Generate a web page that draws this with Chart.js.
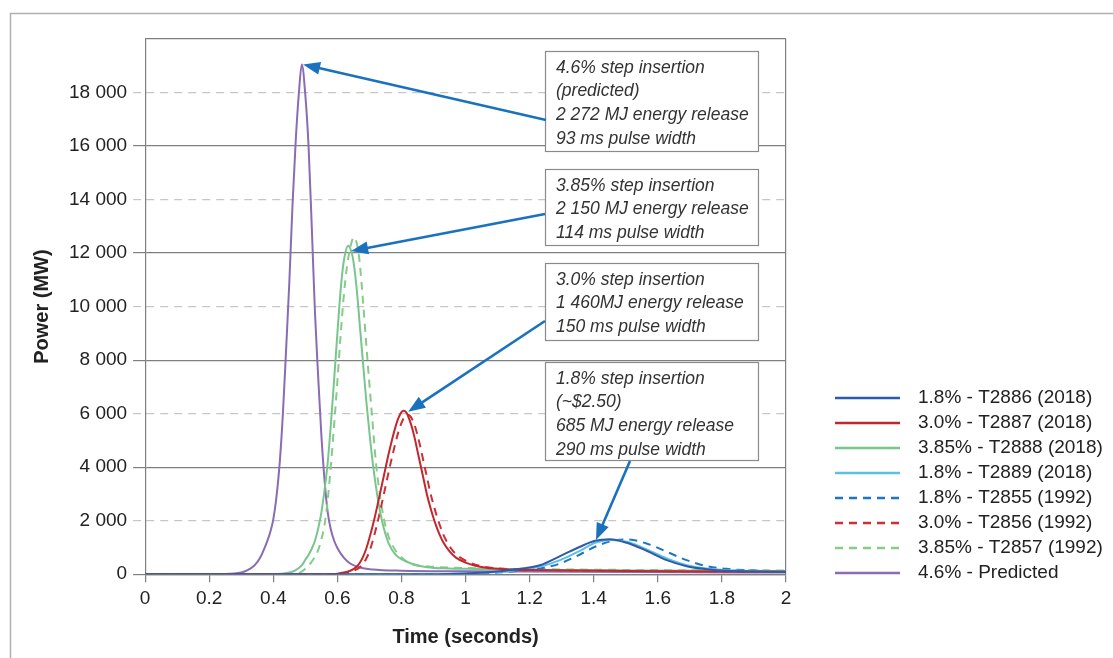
<!DOCTYPE html>
<html>
<head>
<meta charset="utf-8">
<title>Pulse power vs time</title>
<script src="https://cdn.jsdelivr.net/npm/chart.js@4.4.0/dist/chart.umd.min.js"></script>
<style>
  html, body { margin: 0; padding: 0; background: #ffffff; }
  #wrap { position: relative; width: 1113px; height: 658px; }
</style>
</head>
<body>
<div id="wrap"><canvas id="pulseChart"></canvas></div>
<script>
// =============================================
// DATA
// time in seconds, power in MW
// =============================================
const seriesLabels = [
    '1.8% - T2886 (2018)',
    '3.0% - T2887 (2018)',
    '3.85% - T2888 (2018)',
    '1.8% - T2889 (2018)',
    '1.8% - T2855 (1992)',
    '3.0% - T2856 (1992)',
    '3.85% - T2857 (1992)',
    '4.6% - Predicted'
];

// 1.8% - T2886 (2018)
const tB86 = [0, 0.9, 1.0, 1.1, 1.17, 1.232, 1.295, 1.357, 1.404, 1.45, 1.503, 1.565, 1.628, 1.69, 1.753, 1.815, 1.9, 2.0];
const pB86 = [0, 0, 30, 100, 200, 337, 675, 1025, 1250, 1310, 1175, 875, 525, 300, 187, 125, 100, 90];

// 3.0% - T2887 (2018)
const tR18 = [0, 0.58, 0.60, 0.62, 0.64, 0.65, 0.66, 0.67, 0.68, 0.69, 0.70, 0.71, 0.72, 0.73, 0.74, 0.75, 0.76, 0.77, 0.78, 0.79, 0.80, 0.807,
    0.815, 0.82, 0.83, 0.84, 0.85, 0.86, 0.87, 0.88, 0.89, 0.90, 0.91, 0.92, 0.93, 0.95, 0.97, 1.0, 1.04, 1.09, 1.15, 1.2, 1.5, 2.0];
const pR18 = [0, 0, 20, 60, 130, 190, 280, 430, 650, 950, 1350, 1800, 2300, 2850, 3400, 3950, 4500, 5000, 5450, 5820, 6060, 6110,
    6050, 5930, 5600, 5150, 4600, 4050, 3500, 2950, 2500, 2100, 1750, 1450, 1200, 850, 620, 430, 290, 210, 170, 155, 120, 90];

// 3.85% - T2888 (2018)
const tG18 = [0, 0.40, 0.45, 0.47, 0.49, 0.50, 0.51, 0.52, 0.53, 0.54, 0.55, 0.56, 0.57, 0.58, 0.59, 0.60, 0.61, 0.62, 0.634,
    0.645, 0.65, 0.66, 0.67, 0.68, 0.69, 0.70, 0.71, 0.72, 0.73, 0.74, 0.75, 0.76, 0.78, 0.80, 0.83, 0.88, 0.95, 1.0, 1.2, 1.5, 2.0];
const pG18 = [0, 0, 60, 150, 350, 540, 720, 950, 1250, 1700, 2300, 3150, 4200, 5650, 7300, 9000, 10600, 11700, 12275,
    12000, 11700, 10700, 9300, 7900, 6500, 5300, 4200, 3300, 2550, 1950, 1500, 1150, 750, 560, 400, 260, 215, 200, 160, 140, 120];

// 1.8% - T2889 (2018)
const tB89 = [0, 0.9, 1.0, 1.1, 1.17, 1.232, 1.295, 1.357, 1.404, 1.456, 1.503, 1.565, 1.628, 1.69, 1.753, 1.815, 1.9, 2.0];
const pB89 = [0, 0, 25, 80, 170, 280, 525, 875, 1175, 1275, 1215, 925, 590, 340, 212, 150, 110, 95];

// 1.8% - T2855 (1992)
const tB55 = [0, 0.9, 1.0, 1.1, 1.17, 1.232, 1.295, 1.357, 1.404, 1.461, 1.503, 1.565, 1.628, 1.69, 1.753, 1.815, 1.877, 1.95, 2.0];
const pB55 = [0, 0, 15, 60, 130, 212, 400, 737, 1025, 1250, 1300, 1150, 837, 525, 300, 200, 150, 120, 110];

// 3.0% - T2856 (1992)
const tR92 = [0, 0.60, 0.62, 0.64, 0.66, 0.67, 0.68, 0.69, 0.70, 0.71, 0.72, 0.73, 0.74, 0.75, 0.76, 0.77, 0.78, 0.79, 0.80, 0.81, 0.82,
    0.828, 0.84, 0.85, 0.86, 0.87, 0.88, 0.89, 0.90, 0.91, 0.92, 0.93, 0.94, 0.96, 0.98, 1.01, 1.05, 1.10, 1.2, 1.5, 2.0];
const pR92 = [0, 0, 25, 80, 180, 260, 390, 580, 850, 1230, 1680, 2180, 2720, 3270, 3820, 4350, 4850, 5300, 5650, 5880, 5960,
    5900, 5600, 5200, 4700, 4150, 3600, 3050, 2600, 2180, 1820, 1500, 1250, 880, 650, 450, 300, 215, 165, 125, 95];

// 3.85% - T2857 (1992)
const tG92 = [0, 0.45, 0.48, 0.50, 0.51, 0.52, 0.53, 0.54, 0.55, 0.56, 0.57, 0.58, 0.59, 0.60, 0.61, 0.62, 0.63, 0.64, 0.652,
    0.665, 0.67, 0.68, 0.69, 0.70, 0.71, 0.72, 0.73, 0.74, 0.75, 0.76, 0.77, 0.79, 0.83, 0.9, 1.0, 1.2, 1.5, 2.0];
const pG92 = [0, 0, 40, 200, 320, 470, 650, 900, 1300, 1850, 2800, 4100, 5600, 7200, 8900, 10400, 11500, 12200, 12590,
    12100, 11600, 10200, 8600, 7100, 5650, 4200, 3200, 2400, 1800, 1400, 1120, 750, 390, 280, 230, 190, 160, 140];

// 4.6% - Predicted
const tPred = [0, 0.25, 0.30, 0.32, 0.34, 0.35, 0.36, 0.37, 0.38, 0.39, 0.40, 0.41, 0.42, 0.43, 0.44, 0.45, 0.46, 0.47, 0.48, 0.489,
    0.50, 0.51, 0.52, 0.53, 0.54, 0.55, 0.56, 0.57, 0.58, 0.59, 0.60, 0.62, 0.64, 0.67, 0.71, 0.8, 1.0, 1.5, 2.0];
const pPred = [0, 10, 60, 150, 320, 450, 640, 900, 1200, 1550, 2050, 2900, 4150, 6000, 8400, 10900, 13800, 16200, 18000, 19050,
    17900, 16000, 13000, 9800, 7400, 5200, 3500, 2300, 1650, 1250, 980, 620, 400, 250, 175, 130, 110, 80, 60];

// callout texts
const noteTexts = [
    ['4.6% step insertion', '(predicted)', '2 272 MJ energy release', '93 ms pulse width'],
    ['3.85% step insertion', '2 150 MJ energy release', '114 ms pulse width'],
    ['3.0% step insertion', '1 460MJ energy release', '150 ms pulse width'],
    ['1.8% step insertion', '(~$2.50)', '685 MJ energy release', '290 ms pulse width']
];
// point (time, MW) each callout arrow points at
const noteTargetT = [0.493, 0.643, 0.821, 1.407];
const noteTargetP = [19050, 12075, 6075, 1275];

// =============================================
// STYLES
// =============================================
const FONT = "'Liberation Sans', Arial, Helvetica, sans-serif";
const seriesStyles = [
    { color: '#2f5aa8', dash: [] },
    { color: '#c1272d', dash: [] },
    { color: '#78c68e', dash: [] },
    { color: '#5cc0e6', dash: [] },
    { color: '#1b76c4', dash: [8, 6] },
    { color: '#cc2f36', dash: [8, 6] },
    { color: '#86cc86', dash: [8, 6] },
    { color: '#8a6bb5', dash: [] }
];
const seriesData = [
    [tB86, pB86], [tR18, pR18], [tG18, pG18], [tB89, pB89],
    [tB55, pB55], [tR92, pR92], [tG92, pG92], [tPred, pPred]
];

// callout boxes: pixel boxes and arrow start points
const noteLayout = [
    { left: 545, top: 51, width: 213, height: 100, tail: [546, 120] },
    { left: 545, top: 169, width: 213, height: 76, tail: [545, 214] },
    { left: 545, top: 263, width: 213, height: 77, tail: [545, 321] },
    { left: 545, top: 362, width: 213, height: 98, tail: [630, 461] }
];

const GRID_DARK = '#7f7f7f';
const GRID_LIGHT = '#c6c6c6';

function toPoints(ts, ps) {
    return ts.map((t, i) => ({ x: t, y: ps[i] }));
}

function formatPower(v) {
    return String(v).replace(/\B(?=(\d{3})+(?!\d))/g, ' ');
}

function isMajor(ctx) {
    return ctx.tick && ctx.tick.value % 4000 === 0;
}

// =============================================
// PLUGIN: OUTER FRAME
// =============================================
const framePlugin = {
    id: 'frame',
    beforeDraw(chart) {
        const ctx = chart.ctx;
        ctx.save();
        ctx.fillStyle = '#ffffff';
        ctx.fillRect(0, 0, chart.width, chart.height);
        ctx.strokeStyle = '#b0b0b0';
        ctx.lineWidth = 1.5;
        ctx.beginPath();
        ctx.moveTo(10.5, chart.height);
        ctx.lineTo(10.5, 13.5);
        ctx.lineTo(chart.width, 13.5);
        ctx.stroke();
        ctx.restore();
    }
};

// =============================================
// PLUGIN: CALLOUT BOXES + ARROWS
// =============================================
function drawArrow(ctx, x1, y1, x2, y2) {
    const ang = Math.atan2(y2 - y1, x2 - x1);
    const headLen = 17, headW = 6.5;
    const c = Math.cos(ang), s = Math.sin(ang);
    const bx = x2 - headLen * c, by = y2 - headLen * s;
    ctx.beginPath();
    ctx.moveTo(x1, y1);
    ctx.lineTo(bx + 2 * c, by + 2 * s);
    ctx.stroke();
    ctx.beginPath();
    ctx.moveTo(x2, y2);
    ctx.lineTo(bx + headW * s, by - headW * c);
    ctx.lineTo(bx - headW * s, by + headW * c);
    ctx.closePath();
    ctx.fill();
}

const notesPlugin = {
    id: 'notes',
    afterDatasetsDraw(chart) {
        const ctx = chart.ctx;
        const xs = chart.scales.x, ys = chart.scales.y;
        ctx.save();
        noteLayout.forEach((box, i) => {
            // box
            ctx.fillStyle = '#ffffff';
            ctx.fillRect(box.left, box.top, box.width, box.height);
            ctx.strokeStyle = '#8a8a8a';
            ctx.lineWidth = 1.2;
            ctx.strokeRect(box.left + 0.5, box.top + 0.5, box.width, box.height);
            // text
            ctx.fillStyle = '#333333';
            ctx.font = 'italic 17.5px ' + FONT;
            ctx.textBaseline = 'middle';
            ctx.textAlign = 'left';
            noteTexts[i].forEach((line, k) => {
                ctx.fillText(line, box.left + 11, box.top + 17 + k * 23.6);
            });
            // arrow
            ctx.strokeStyle = '#1a72be';
            ctx.fillStyle = '#1a72be';
            ctx.lineWidth = 2.6;
            const tx = xs.getPixelForValue(noteTargetT[i]);
            const ty = ys.getPixelForValue(noteTargetP[i]);
            drawArrow(ctx, box.tail[0], box.tail[1], tx, ty);
        });
        ctx.restore();
    }
};

// =============================================
// PLUGIN: LEGEND (right side)
// =============================================
const legendPlugin = {
    id: 'sideLegend',
    afterDraw(chart) {
        const ctx = chart.ctx;
        ctx.save();
        ctx.font = '19px ' + FONT;
        ctx.textBaseline = 'middle';
        ctx.textAlign = 'left';
        chart.data.datasets.forEach((ds, i) => {
            const y = 398 + i * 25;
            ctx.strokeStyle = ds.borderColor;
            ctx.lineWidth = 2.5;
            ctx.setLineDash(ds.borderDash || []);
            ctx.beginPath();
            ctx.moveTo(835, y);
            ctx.lineTo(900, y);
            ctx.stroke();
            ctx.setLineDash([]);
            ctx.fillStyle = '#222222';
            ctx.fillText(ds.label, 918, y);
        });
        ctx.restore();
    }
};

// =============================================
// CHART CONFIG
// =============================================
const pulseConfig = {
    type: 'line',
    data: {
        datasets: seriesLabels.map((label, i) => ({
            label: label,
            data: toPoints(seriesData[i][0], seriesData[i][1]),
            borderColor: seriesStyles[i].color,
            borderDash: seriesStyles[i].dash,
            borderWidth: 2,
            pointRadius: 0,
            fill: false,
            tension: 0.4,
            cubicInterpolationMode: 'monotone'
        }))
    },
    options: {
        responsive: true,
        maintainAspectRatio: false,
        animation: false,
        layout: { padding: { left: 26, top: 39, right: 327, bottom: 5 } },
        plugins: {
            legend: { display: false },
            tooltip: { enabled: false }
        },
        scales: {
            x: {
                type: 'linear',
                min: 0,
                max: 2,
                ticks: {
                    stepSize: 0.2,
                    autoSkip: false,
                    maxRotation: 0,
                    padding: 5,
                    color: '#222222',
                    font: { family: FONT, size: 19 },
                    callback: (v) => String(+v.toFixed(1))
                },
                grid: {
                    drawOnChartArea: true,
                    drawTicks: true,
                    tickLength: 8,
                    lineWidth: 1.2,
                    tickColor: GRID_DARK,
                    color: (c) => (c.tick && Math.abs(c.tick.value - 2) < 1e-9) ? GRID_DARK : 'rgba(0,0,0,0)'
                },
                border: { display: true, color: GRID_DARK, width: 1.2 },
                title: {
                    display: true,
                    text: 'Time (seconds)',
                    color: '#222222',
                    font: { family: FONT, size: 20, weight: 'bold' },
                    padding: { top: 10, bottom: 4 }
                }
            },
            y: {
                min: 0,
                max: 20000,
                ticks: {
                    stepSize: 2000,
                    padding: 6,
                    color: '#222222',
                    font: { family: FONT, size: 19 },
                    callback: (v) => v === 20000 ? '' : formatPower(v)
                },
                grid: {
                    drawTicks: true,
                    tickLength: 12,
                    lineWidth: 1.2,
                    color: (c) => isMajor(c) ? GRID_DARK : GRID_LIGHT,
                    tickColor: (c) => (c.tick && c.tick.value === 20000) ? 'rgba(0,0,0,0)' : (isMajor(c) ? GRID_DARK : GRID_LIGHT),
                    tickBorderDash: (c) => isMajor(c) ? [] : [8, 6]
                },
                border: {
                    display: true,
                    color: GRID_DARK,
                    width: 1.2,
                    dash: (c) => (c.tick && !isMajor(c)) ? [8, 6] : []
                },
                title: {
                    display: true,
                    text: 'Power (MW)',
                    color: '#222222',
                    font: { family: FONT, size: 20, weight: 'bold' },
                    padding: { top: 4, bottom: 9 }
                }
            }
        }
    },
    plugins: [framePlugin, notesPlugin, legendPlugin]
};

// =============================================
// INIT
// =============================================
function initializeChart() {
    new Chart(document.getElementById('pulseChart'), pulseConfig);
}

document.addEventListener('DOMContentLoaded', initializeChart);
</script>
</body>
</html>
